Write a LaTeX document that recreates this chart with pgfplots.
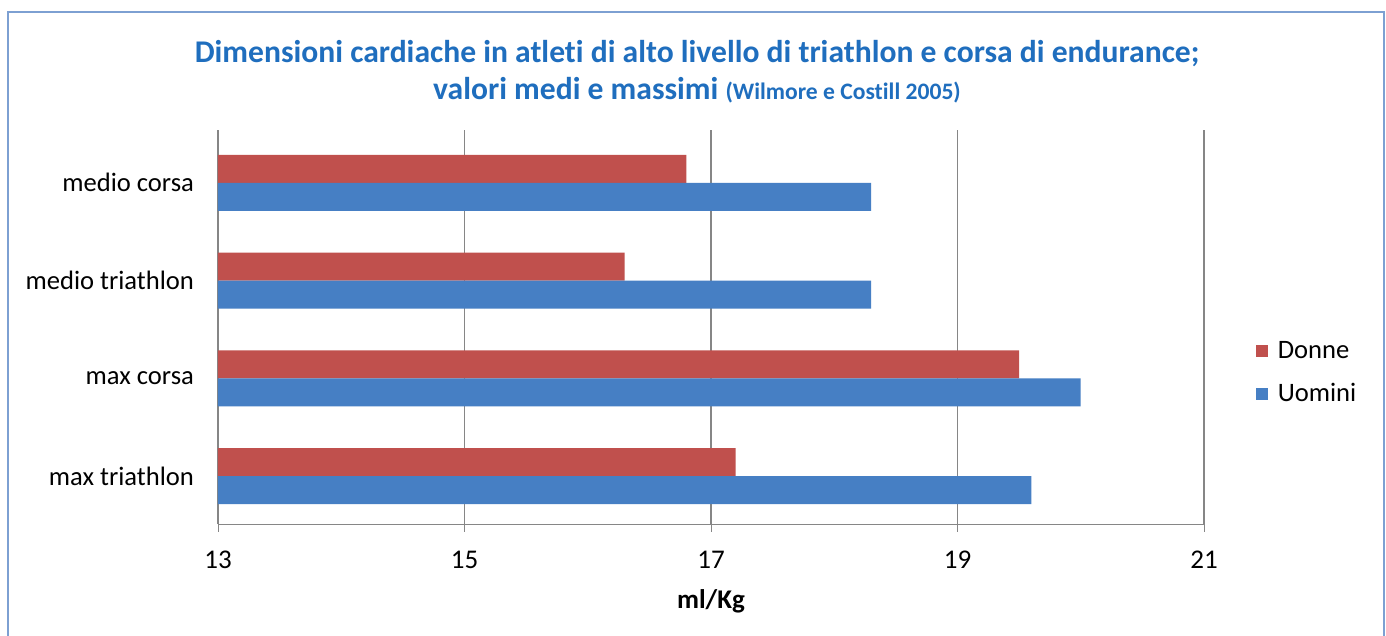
\documentclass[border=0pt]{standalone}
\usepackage{pgfplots}
\pgfplotsset{compat=1.18}
\usepackage{fontspec}
\setmainfont{Carlito}[Ligatures=NoCommon]
\definecolor{cRed}{RGB}{192,80,77}
\definecolor{cBlue}{RGB}{70,127,196}
\definecolor{cTitle}{RGB}{31,110,190}
\definecolor{cGrid}{RGB}{134,134,134}
\definecolor{cFrame}{RGB}{125,160,210}
\begin{document}
\begin{tikzpicture}
\useasboundingbox[fill=white] (-109pt,-56pt) rectangle (584pt,262pt);
\draw[cFrame, line width=1pt] (-105pt,-56pt) -- (-105pt,256pt) -- (583pt,256pt) -- (583pt,-56pt);
\begin{axis}[
  at={(0,0)}, anchor=south west,
  scale only axis, width=493pt, height=197pt,
  xbar, bar width=14pt,
  xmin=13, xmax=21, ymin=-0.49, ymax=3.54,
  xtick={13,15,17,19,21},
  ytick={0,1,2,3},
  yticklabels={max triathlon, max corsa, medio triathlon, medio corsa},
  axis x line*=bottom, axis y line*=left,
  axis line style={cGrid, -},
  major tick length=4pt,
  x tick style={cGrid},
  xtick pos=bottom,
  tick align=outside,
  y tick style={draw=none},
  xmajorgrids, major grid style={cGrid, line width=0.6pt},
  ticklabel style={font=\fontsize{13.3}{15}\selectfont, text=black},
  xticklabel style={font=\fontsize{13.5}{15}\selectfont, yshift=-6pt},
  /pgf/number format/assume math mode=true,
  yticklabel style={xshift=-4.5pt},
  xlabel={\textbf{ml/Kg}},
  xlabel style={font=\fontsize{13.5}{15}\selectfont, yshift=-3.5pt},
  legend style={at={(1.046,0.383)}, anchor=west, draw=none, fill=none,
    font=\fontsize{13.3}{15}\selectfont, row sep=7pt,
    nodes={inner xsep=5pt}},
  legend cell align=left,
  legend image code/.code={\fill[#1, draw=none] (0pt,-3pt) rectangle (6pt,3pt);},
]
\addplot[fill=cRed, draw=none, bar shift=7pt] coordinates {(17.2,0) (19.5,1) (16.3,2) (16.8,3)};
\addplot[fill=cBlue, draw=none, bar shift=-7pt] coordinates {(19.6,0) (20.0,1) (18.3,2) (18.3,3)};
\legend{Donne, Uomini}
\end{axis}
\node[text=cTitle, font=\bfseries\fontsize{15.8}{18}\selectfont] at (239.5pt,235pt) {Dimensioni cardiache in atleti di alto livello di triathlon e corsa di endurance;};
\node[text=cTitle, font=\bfseries\fontsize{15.8}{18}\selectfont] at (239.5pt,217pt) {valori medi e massimi \fontsize{11.8}{14}\selectfont(Wilmore e Costill 2005)};
\end{tikzpicture}
\end{document}
